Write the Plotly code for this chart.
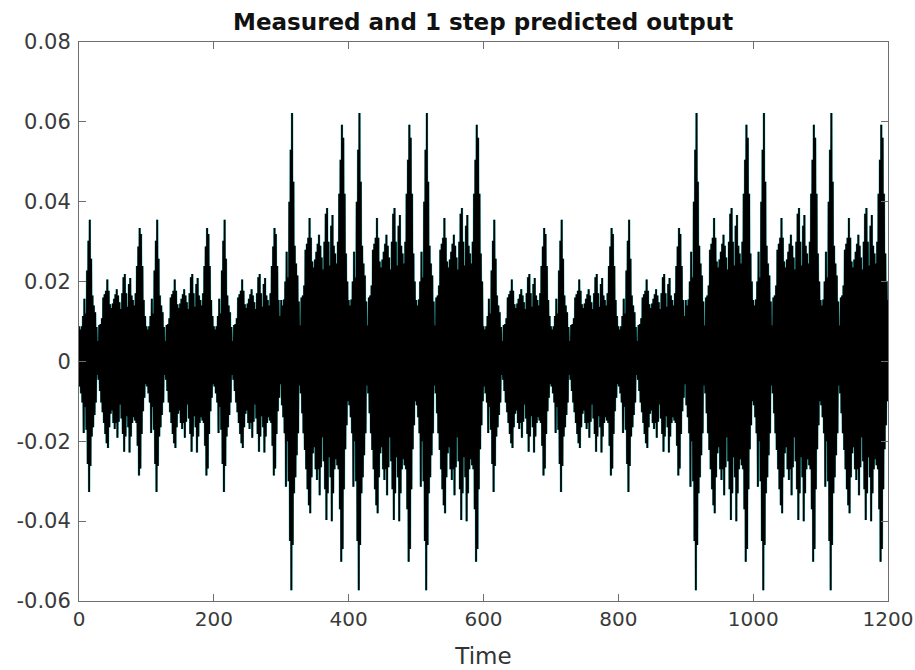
import plotly.graph_objects as go

# One period (100 samples) of the output in the low-amplitude blocks
period_small = [
    0.0088, -0.0063, 0.0080, -0.0080, 0.0088, -0.0103, 0.0114, -0.0179, 0.0157, -0.0114,
    0.0120, -0.0171, 0.0228, -0.0257, 0.0302, -0.0327, 0.0355, -0.0262, 0.0257, -0.0188,
    0.0165, -0.0165, 0.0140, -0.0134, 0.0123, -0.0103, 0.0086, -0.0034, 0.0051, -0.0046,
    0.0091, -0.0074, 0.0094, -0.0103, 0.0108, -0.0127, 0.0160, -0.0154, 0.0168, -0.0182,
    0.0177, -0.0205, 0.0205, -0.0217, 0.0177, -0.0165, 0.0143, -0.0131, 0.0134, -0.0123,
    0.0145, -0.0154, 0.0157, -0.0169, 0.0168, -0.0154, 0.0181, -0.0191, 0.0165, -0.0151,
    0.0148, -0.0108, 0.0131, -0.0143, 0.0171, -0.0182, 0.0211, -0.0226, 0.0219, -0.0188,
    0.0171, -0.0137, 0.0137, -0.0165, 0.0194, -0.0228, 0.0209, -0.0188, 0.0165, -0.0154,
    0.0154, -0.0140, 0.0140, -0.0148, 0.0171, -0.0154, 0.0239, -0.0211, 0.0288, -0.0286,
    0.0334, -0.0268, 0.0319, -0.0182, 0.0239, -0.0125, 0.0154, -0.0091, 0.0114, -0.0057,
]

# One period (100 samples) of the output in the high-amplitude blocks
period_large = [
    0.0154, -0.0110, 0.0140, -0.0140, 0.0155, -0.0180, 0.0200, -0.0314, 0.0275, -0.0200,
    0.0210, -0.0300, 0.0400, -0.0450, 0.0530, -0.0573, 0.0622, -0.0460, 0.0450, -0.0330,
    0.0290, -0.0290, 0.0245, -0.0235, 0.0215, -0.0180, 0.0150, -0.0060, 0.0090, -0.0080,
    0.0160, -0.0130, 0.0165, -0.0180, 0.0190, -0.0222, 0.0280, -0.0270, 0.0295, -0.0320,
    0.0310, -0.0360, 0.0359, -0.0380, 0.0310, -0.0290, 0.0250, -0.0230, 0.0235, -0.0215,
    0.0255, -0.0270, 0.0275, -0.0297, 0.0295, -0.0270, 0.0317, -0.0335, 0.0290, -0.0265,
    0.0260, -0.0190, 0.0230, -0.0250, 0.0300, -0.0320, 0.0370, -0.0397, 0.0384, -0.0330,
    0.0300, -0.0240, 0.0240, -0.0290, 0.0340, -0.0400, 0.0367, -0.0330, 0.0290, -0.0270,
    0.0270, -0.0245, 0.0245, -0.0260, 0.0300, -0.0270, 0.0420, -0.0370, 0.0505, -0.0502,
    0.0593, -0.0470, 0.0560, -0.0320, 0.0420, -0.0220, 0.0270, -0.0160, 0.0200, -0.0100,
]

# Which block type each 100-sample stretch of the record shows
block_order = ["small", "small", "small", "large", "large", "large",
               "small", "small", "small", "large", "large", "large"]
last_sample = 0.0154

x_tick_values = [0, 200, 400, 600, 800, 1000, 1200]
x_tick_labels = ["0", "200", "400", "600", "800", "1000", "1200"]
y_tick_values = [-0.06, -0.04, -0.02, 0, 0.02, 0.04, 0.06, 0.08]
y_tick_labels = ["-0.06", "-0.04", "-0.02", "0", "0.02", "0.04", "0.06", "0.08"]

measured = []
for block in block_order:
    measured.extend(period_small if block == "small" else period_large)
measured.append(last_sample)
predicted = list(measured)  # indistinguishable from the measured output in the picture
time = list(range(len(measured)))

fig = go.Figure()
fig.add_trace(go.Scatter(x=time, y=measured, mode="lines",
                         line=dict(color="#2ab8b8", width=2.4), name="Measured",
                         showlegend=False))
fig.add_trace(go.Scatter(x=time, y=predicted, mode="lines",
                         line=dict(color="#000000", width=1.7), name="1 step predicted",
                         showlegend=False))

axis_common = dict(showline=True, linecolor="#6e6e6e", linewidth=1, mirror="ticks",
                   ticks="inside", ticklen=7, tickcolor="#6e6e6e", showgrid=False,
                   zeroline=False, automargin=False,
                   tickfont=dict(family="DejaVu Sans", size=20, color="#3a3a3a"))

fig.update_layout(
    width=915, height=670,
    paper_bgcolor="white", plot_bgcolor="white",
    margin=dict(l=79, r=27, t=42, b=69, pad=0),
    title=dict(text="<b>Measured and 1 step predicted output</b>",
               x=0.528, xanchor="center", y=1 - 22 / 670, yanchor="middle", yref="container",
               font=dict(family="DejaVu Sans", size=23, color="#111111")),
    xaxis=dict(range=[0, 1200], tickvals=x_tick_values, ticktext=x_tick_labels,
               title=dict(text="Time", font=dict(family="DejaVu Sans", size=23, color="#333333"),
                          standoff=17),
               **axis_common),
    yaxis=dict(range=[-0.06, 0.08], tickvals=y_tick_values, ticktext=y_tick_labels,
               ticklabelstandoff=3,
               tickfont=dict(family="DejaVu Sans", size=21, color="#3a3a3a"),
               **{k: v for k, v in axis_common.items() if k != "tickfont"}),
)

fig.write_html("out.html", config={"displayModeBar": False},
               post_script="document.body.style.margin='0px';document.body.style.overflow='hidden';")
